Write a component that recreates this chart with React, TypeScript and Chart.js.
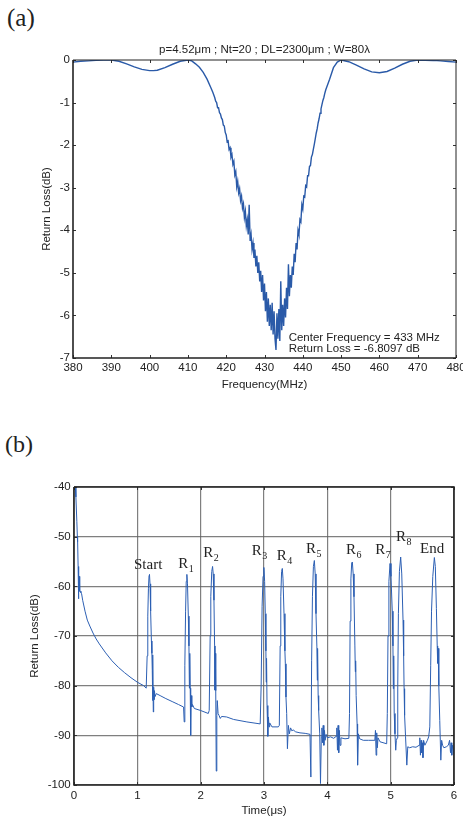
import React, { useEffect, useRef } from 'react';
import { Chart, registerables } from 'chart.js';

Chart.register(...registerables);

const FONT_SANS = '"Liberation Sans", Arial, Helvetica, sans-serif';
const FONT_SERIF = '"Liberation Serif", "Times New Roman", serif';

// ---------------- (a) frequency response ----------------
const titleA = 'p=4.52\u03bcm ; Nt=20 ; DL=2300\u03bcm ; W=80\u03bb';
const annotA = ['Center Frequency = 433 MHz', 'Return Loss = -6.8097 dB'];
const annotFreqA = 436.3;
const annotDbA = [-6.59, -6.86];

const freqA = [
  380, 382, 384, 386, 388, 390, 392, 394, 396, 398,
  400, 401, 402, 404, 406, 408, 410, 411, 412, 413,
  414, 415, 416, 416.5,
  417, 417.25, 417.5, 417.75, 418, 418.25, 418.5, 418.75, 419, 419.25, 419.5, 419.75,
  420, 420.25, 420.5, 420.75, 421, 421.25, 421.5, 421.75, 422, 422.25, 422.5, 422.75,
  423, 423.25, 423.5, 423.75, 424, 424.25, 424.5, 424.75, 425, 425.25, 425.5, 425.75,
  426, 426.25, 426.5, 426.75, 427, 427.25, 427.5, 427.75, 428, 428.25, 428.5, 428.75,
  429, 429.25, 429.5, 429.75, 430, 430.25, 430.5, 430.75, 431, 431.25, 431.5, 431.75,
  432, 432.25, 432.5, 432.75, 433, 433.25, 433.5, 433.75, 434, 434.25, 434.5, 434.75,
  435, 435.25, 435.5, 435.75, 436, 436.25, 436.5, 436.75, 437, 437.25, 437.5, 437.75,
  438, 438.25, 438.5, 438.75, 439, 439.25, 439.5, 439.75, 440, 440.25, 440.5, 440.75,
  441, 441.25, 441.5, 441.75, 442, 442.25, 442.5, 442.75, 443, 443.25, 443.5, 443.75,
  444, 444.25, 444.5, 444.75, 445, 445.25, 445.5, 445.75, 446,
  447, 448, 449, 450, 452, 454, 456, 458, 460, 462, 464, 466, 468, 470, 472, 474, 476, 478, 480,
];

const lossA = [
  -0.05, -0.03, -0.02, -0.01, -0.003, 0, -0.03, -0.09, -0.16, -0.22,
  -0.25, -0.25, -0.24, -0.18, -0.1, -0.03, 0, -0.02, -0.09, -0.17,
  -0.29, -0.45, -0.65, -0.76,
  -0.88, -0.97, -1.0, -1.12, -1.12, -1.24, -1.27, -1.36, -1.4, -1.53, -1.55, -1.7,
  -1.76, -1.92, -1.9, -2.1, -2.06, -2.28, -2.22, -2.45, -2.38, -2.7, -2.62, -2.98,
  -2.85, -3.12, -3.02, -3.3, -3.2, -3.48, -3.38, -3.7, -3.55, -3.9, -3.75, -4.1,
  -3.4, -4.25, -4.1, -4.45, -4.3, -4.65, -4.45, -4.85, -4.6, -5.0, -4.75, -5.2,
  -4.95, -5.45, -5.05, -5.65, -5.25, -5.9, -5.45, -6.15, -5.6, -6.25, -5.75, -6.35,
  -5.7, -6.45, -5.9, -6.55, -6.81, -5.95, -6.55, -5.85, -6.6, -5.2, -6.35, -5.75,
  -6.25, -5.6, -6.05, -5.35, -5.85, -4.8, -5.55, -5.05, -5.35, -4.85, -5.05, -4.55,
  -4.75, -4.3, -4.45, -4.0, -4.1, -3.75, -3.8, -3.4, -3.5, -3.2, -3.22, -2.95,
  -2.98, -2.72, -2.72, -2.5, -2.48, -2.28, -2.22, -2.1, -1.98, -1.85, -1.72, -1.62,
  -1.48, -1.38, -1.25, -1.15, -1.05, -0.95, -0.88, -0.78, -0.7,
  -0.45, -0.18, -0.05, 0, -0.04, -0.12, -0.21, -0.28, -0.3, -0.27, -0.19, -0.1, -0.03, 0, -0.005, -0.01, -0.02, -0.035, -0.05,
];

// ---------------- (b) time response ----------------
const timeB = [
  0.020, 0.030, 0.045, 0.053, 0.055, 0.058, 0.065, 0.068, 0.072, 0.075,
  0.078, 0.085, 0.090, 0.100, 0.110, 0.120, 0.137, 0.174, 0.210, 0.250,
  0.300, 0.350, 0.400, 0.500, 0.600, 0.700, 0.800, 0.900, 1.000, 1.100,
  1.140, 1.155, 1.165, 1.175, 1.185, 1.192, 1.200, 1.210, 1.222, 1.230,
  1.236, 1.240, 1.246, 1.252, 1.258, 1.264, 1.270, 1.280, 1.300, 1.360,
  1.450, 1.550, 1.650, 1.730, 1.740, 1.750, 1.762, 1.772, 1.782, 1.792,
  1.805, 1.815, 1.822, 1.828, 1.835, 1.842, 1.850, 1.860, 1.870, 1.900,
  2.000, 2.120, 2.135, 2.150, 2.160, 2.175, 2.188, 2.198, 2.210, 2.220,
  2.226, 2.232, 2.238, 2.246, 2.255, 2.262, 2.275, 2.290, 2.310, 2.330,
  2.410, 2.520, 2.730, 2.940, 2.955, 2.970, 2.985, 2.998, 3.010, 3.020,
  3.030, 3.035, 3.040, 3.048, 3.060, 3.070, 3.080, 3.090, 3.126, 3.226,
  3.242, 3.255, 3.265, 3.278, 3.289, 3.300, 3.316, 3.330, 3.337, 3.347,
  3.358, 3.370, 3.385, 3.400, 3.420, 3.440, 3.460, 3.500, 3.568, 3.650,
  3.726, 3.740, 3.752, 3.765, 3.780, 3.795, 3.808, 3.821, 3.835, 3.842,
  3.846, 3.855, 3.863, 3.880, 3.892, 3.905, 3.915, 3.925, 3.935, 3.945,
  3.955, 3.965, 3.980, 4.000, 4.050, 4.100, 4.140, 4.150, 4.160, 4.170,
  4.180, 4.190, 4.200, 4.215, 4.279, 4.340, 4.350, 4.360, 4.372, 4.385,
  4.395, 4.408, 4.421, 4.435, 4.442, 4.447, 4.455, 4.470, 4.478, 4.490,
  4.510, 4.568, 4.650, 4.750, 4.760, 4.770, 4.780, 4.790, 4.800, 4.832,
  4.937, 4.947, 4.958, 4.972, 4.990, 5.005, 5.025, 5.036, 5.042, 5.048,
  5.056, 5.068, 5.080, 5.090, 5.105, 5.112, 5.122, 5.138, 5.158, 5.175,
  5.195, 5.205, 5.212, 5.220, 5.235, 5.255, 5.270, 5.300, 5.347, 5.400,
  5.450, 5.460, 5.470, 5.480, 5.490, 5.500, 5.510, 5.520, 5.540, 5.580,
  5.600, 5.618, 5.632, 5.645, 5.665, 5.690, 5.705, 5.722, 5.735, 5.742,
  5.750, 5.760, 5.775, 5.792, 5.805, 5.820, 5.840, 5.880, 5.910, 5.930,
  5.945, 5.955, 5.965, 5.975, 5.990, 6.000,
];

const lossB = [
  -40.0, -42.0, -47.0, -50.0, -51.0, -50.5, -56.0, -58.2, -62.5, -62.0,
  -58.0, -58.0, -61.0, -61.0, -61.3, -61.5, -62.8, -65.0, -66.8, -68.0,
  -69.4, -70.6, -71.6, -73.4, -75.0, -76.3, -77.4, -78.4, -79.3, -80.0,
  -80.5, -74.0, -66.0, -60.5, -57.8, -57.6, -59.5, -65.0, -71.0, -73.5,
  -77.0, -83.0, -73.8, -85.3, -80.3, -82.8, -81.0, -82.2, -81.6, -82.0,
  -82.6, -83.2, -83.8, -84.3, -87.3, -76.0, -65.0, -59.0, -57.6, -59.5,
  -66.0, -72.0, -80.5, -73.5, -80.5, -90.0, -82.0, -84.3, -83.8, -84.6,
  -85.0, -85.6, -85.0, -70.0, -62.0, -57.0, -56.0, -57.5, -62.8, -72.0,
  -80.9, -73.5, -81.0, -97.2, -86.0, -83.0, -85.6, -86.0, -86.6, -86.2,
  -86.3, -86.8, -87.3, -87.7, -80.0, -64.0, -58.0, -56.2, -59.0, -65.5,
  -73.0, -79.3, -74.5, -84.0, -90.2, -86.3, -88.3, -87.5, -88.3, -88.3,
  -88.0, -72.0, -62.0, -57.0, -56.4, -58.5, -65.5, -73.0, -75.6, -82.3,
  -85.6, -92.7, -88.0, -89.7, -88.5, -89.1, -88.9, -89.3, -89.5, -89.6,
  -89.8, -98.4, -75.0, -62.0, -56.0, -54.8, -57.5, -65.5, -72.2, -78.9,
  -72.5, -82.0, -85.0, -89.7, -99.7, -90.3, -88.5, -91.5, -88.0, -92.0,
  -89.0, -91.0, -89.8, -90.5, -90.3, -90.6, -90.2, -88.5, -93.0, -88.0,
  -93.5, -89.0, -92.0, -90.5, -90.7, -90.6, -85.6, -67.0, -58.5, -55.3,
  -55.1, -57.5, -62.1, -72.0, -77.2, -75.0, -82.0, -87.7, -96.0, -89.7,
  -90.7, -91.0, -91.0, -91.0, -89.0, -94.0, -89.5, -92.5, -90.5, -91.3,
  -91.7, -85.6, -70.0, -59.0, -55.4, -58.0, -65.0, -72.0, -80.6, -74.0,
  -85.6, -89.7, -93.0, -91.0, -90.5, -80.0, -65.5, -57.0, -54.1, -57.5,
  -66.8, -74.0, -80.6, -86.0, -90.3, -96.0, -92.3, -92.5, -92.3, -92.4,
  -92.0, -90.5, -94.0, -91.0, -93.5, -91.5, -94.5, -91.0, -92.0, -91.0,
  -90.3, -88.3, -76.0, -65.0, -58.0, -54.2, -56.0, -64.5, -72.0, -75.5,
  -72.5, -80.0, -87.0, -95.0, -91.0, -92.0, -92.5, -92.3, -92.0, -91.0,
  -93.5, -91.5, -94.0, -92.0, -93.0, -93.7,
];

const peakNames = ['Start', 'R', 'R', 'R', 'R', 'R', 'R', 'R', 'R', 'End'];
const peakSubs = ['', '1', '2', '3', '4', '5', '6', '7', '8', ''];
const peakLabelTime = [0.947, 1.647, 2.042, 2.806, 3.2, 3.663, 4.295, 4.758, 5.084, 5.463];
const peakLabelDb = [-56.6, -56.4, -54.1, -53.7, -54.7, -53.3, -53.5, -53.4, -50.9, -53.3];

// ---------------- plugins ----------------
function makeFramePlugin(id: string, thickAll: boolean) {
  return {
    id,
    afterDatasetsDraw(chart: any) {
      const { ctx, chartArea, scales } = chart;
      const { left, right, top, bottom } = chartArea;
      const xs = scales.x;
      const ys = scales.y;
      ctx.save();
      ctx.strokeStyle = '#333';
      ctx.lineWidth = 1;
      const tl = 3;
      ctx.beginPath();
      xs.ticks.forEach((t: any) => {
        const px = Math.round(xs.getPixelForValue(t.value)) + 0.5;
        ctx.moveTo(px, bottom);
        ctx.lineTo(px, bottom - tl);
        ctx.moveTo(px, top);
        ctx.lineTo(px, top + tl);
      });
      ys.ticks.forEach((t: any) => {
        const py = Math.round(ys.getPixelForValue(t.value)) + 0.5;
        ctx.moveTo(left, py);
        ctx.lineTo(left + tl, py);
        ctx.moveTo(right, py);
        ctx.lineTo(right - tl, py);
      });
      ctx.stroke();
      ctx.strokeStyle = '#222';
      ctx.lineWidth = 1.6;
      ctx.beginPath();
      ctx.moveTo(left, top);
      ctx.lineTo(left, bottom);
      ctx.lineTo(right, bottom);
      ctx.stroke();
      ctx.lineWidth = thickAll ? 1.6 : 1;
      ctx.beginPath();
      ctx.moveTo(left, top);
      ctx.lineTo(right, top);
      ctx.lineTo(right, bottom);
      ctx.stroke();
      ctx.restore();
    },
  };
}

const textPluginA = {
  id: 'textA',
  afterDraw(chart: any) {
    const { ctx, chartArea, scales } = chart;
    ctx.save();
    ctx.fillStyle = '#222';
    ctx.font = `11.5px ${FONT_SANS}`;
    ctx.textBaseline = 'alphabetic';
    ctx.textAlign = 'center';
    ctx.fillText(titleA, (chartArea.left + chartArea.right) / 2, chartArea.top - 6.7);
    ctx.textAlign = 'left';
    const x = scales.x.getPixelForValue(annotFreqA);
    annotA.forEach((s, i) => ctx.fillText(s, x, scales.y.getPixelForValue(annotDbA[i])));
    ctx.restore();
  },
};

const labelPluginB = {
  id: 'labelsB',
  afterDatasetsDraw(chart: any) {
    const { ctx, scales } = chart;
    ctx.save();
    ctx.fillStyle = '#222';
    ctx.textBaseline = 'alphabetic';
    ctx.textAlign = 'left';
    peakNames.forEach((name, i) => {
      const x = scales.x.getPixelForValue(peakLabelTime[i]);
      const y = scales.y.getPixelForValue(peakLabelDb[i]);
      ctx.font = `15px ${FONT_SERIF}`;
      ctx.fillText(name, x, y);
      if (peakSubs[i]) {
        const w = ctx.measureText(name).width;
        ctx.font = `10px ${FONT_SERIF}`;
        ctx.fillText(peakSubs[i], x + w + 0.5, y + 4);
      }
    });
    ctx.restore();
  },
};

const tickFont = { family: FONT_SANS, size: 11.5 };

export default function App() {
  const refA = useRef<HTMLCanvasElement>(null);
  const refB = useRef<HTMLCanvasElement>(null);

  useEffect(() => {
    const chartA = new Chart(refA.current as HTMLCanvasElement, {
      type: 'line',
      data: {
        datasets: [
          {
            data: freqA.map((f, i) => ({ x: f, y: lossA[i] })),
            borderColor: '#2a5aa8',
            borderWidth: 1.4,
            pointRadius: 0,
            tension: 0,
            fill: false,
          },
        ],
      },
      options: {
        responsive: false,
        animation: false,
        events: [],
        devicePixelRatio: 1,
        layout: { padding: { top: 60, right: 7, left: 0, bottom: 0 } },
        plugins: { legend: { display: false }, tooltip: { enabled: false }, title: { display: false } },
        scales: {
          x: {
            type: 'linear',
            min: 380,
            max: 480,
            ticks: { stepSize: 10, color: '#222', font: tickFont, padding: 3, maxRotation: 0, autoSkip: false },
            grid: { display: false, drawTicks: false },
            border: { display: false },
            title: { display: true, text: 'Frequency(MHz)', color: '#222', font: tickFont, padding: { top: 0, bottom: 8.1 } },
            afterFit: (s: any) => {
              s.height = 42;
              s.paddingLeft = 0;
              s.paddingRight = 0;
            },
          },
          y: {
            type: 'linear',
            min: -7,
            max: 0,
            ticks: { stepSize: 1, color: '#222', font: tickFont, padding: 3, autoSkip: false },
            grid: { display: false, drawTicks: false },
            border: { display: false },
            title: { display: true, text: 'Return Loss(dB)', color: '#222', font: tickFont, padding: { top: 40.1, bottom: 0 } },
            afterFit: (s: any) => {
              s.width = 73;
              s.paddingTop = 0;
              s.paddingBottom = 0;
            },
          },
        },
      } as any,
      plugins: [makeFramePlugin('frameA', false), textPluginA],
    });

    const chartB = new Chart(refB.current as HTMLCanvasElement, {
      type: 'line',
      data: {
        datasets: [
          {
            data: timeB.map((t, i) => ({ x: t, y: lossB[i] })),
            borderColor: '#2c5fb3',
            borderWidth: 1,
            pointRadius: 0,
            tension: 0,
            fill: false,
          },
        ],
      },
      options: {
        responsive: false,
        animation: false,
        events: [],
        devicePixelRatio: 1,
        layout: { padding: { top: 77, right: 9, left: 0, bottom: 0 } },
        plugins: { legend: { display: false }, tooltip: { enabled: false }, title: { display: false } },
        scales: {
          x: {
            type: 'linear',
            min: 0,
            max: 6,
            ticks: { stepSize: 1, color: '#222', font: tickFont, padding: 4.3, maxRotation: 0, autoSkip: false },
            grid: { display: true, drawTicks: false, color: 'rgba(95,95,95,0.8)', lineWidth: 1.2 },
            border: { display: false },
            title: { display: true, text: 'Time(\u03bcs)', color: '#222', font: tickFont, padding: { top: 0, bottom: 0.4 } },
            afterFit: (s: any) => {
              s.height = 33;
              s.paddingLeft = 0;
              s.paddingRight = 0;
            },
          },
          y: {
            type: 'linear',
            min: -100,
            max: -40,
            ticks: { stepSize: 10, color: '#222', font: tickFont, padding: 3.3, autoSkip: false },
            grid: { display: true, drawTicks: false, color: 'rgba(95,95,95,0.8)', lineWidth: 1.2 },
            border: { display: false },
            title: { display: true, text: 'Return Loss(dB)', color: '#222', font: tickFont, padding: { top: 28.1, bottom: 0 } },
            afterFit: (s: any) => {
              s.width = 74;
              s.paddingTop = 0;
              s.paddingBottom = 0;
            },
          },
        },
      } as any,
      plugins: [makeFramePlugin('frameB', true), labelPluginB],
    });

    return () => {
      chartA.destroy();
      chartB.destroy();
    };
  }, []);

  return (
    <div style={{ position: 'absolute', left: 0, top: 0, width: 463, height: 818, background: '#fff', overflow: 'hidden' }}>
      <div style={{ position: 'absolute', left: 7, top: 5, fontFamily: FONT_SERIF, fontSize: 25, lineHeight: '25px', color: '#222' }}>(a)</div>
      <canvas ref={refA} width={463} height={400} style={{ position: 'absolute', left: 0, top: 0, width: 463, height: 400 }} />
      <div style={{ position: 'absolute', left: 5, top: 432, fontFamily: FONT_SERIF, fontSize: 24, lineHeight: '24px', color: '#222' }}>(b)</div>
      <canvas ref={refB} width={463} height={408} style={{ position: 'absolute', left: 0, top: 410, width: 463, height: 408 }} />
    </div>
  );
}
